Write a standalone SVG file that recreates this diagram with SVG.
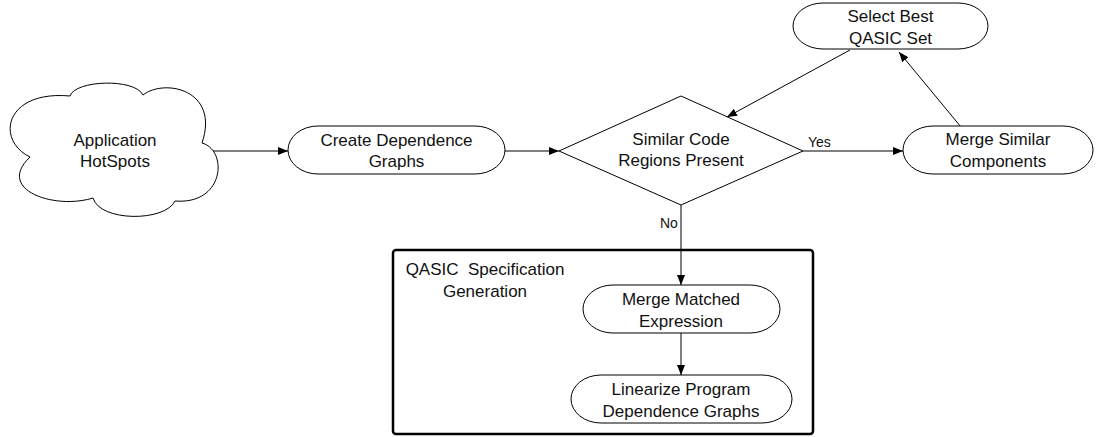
<svg xmlns="http://www.w3.org/2000/svg" width="1097" height="437" viewBox="0 0 1097 437">
  <style>
    .shape { fill: #ffffff; stroke: #000000; stroke-width: 1; }
    .frame { fill: none; stroke: #000000; stroke-width: 2.5; }
    .label { font-family: "Liberation Sans", Arial, sans-serif; font-size: 17px; fill: #111111; text-anchor: middle; }
    .edge-label { font-family: "Liberation Sans", Arial, sans-serif; font-size: 14px; fill: #111111; }
    .edge { fill: none; stroke: #000000; stroke-width: 1; marker-end: url(#arrow); }
  </style>
  <defs>
    <marker id="arrow" viewBox="0 0 10 8" refX="10" refY="4" markerWidth="10" markerHeight="8" markerUnits="userSpaceOnUse" orient="auto">
      <path d="M0,0 L10,4 L0,8 Z" fill="#000000"/>
    </marker>
  </defs>

  <rect width="1097" height="437" fill="#ffffff"/>

  <!-- QASIC specification generation container -->
  <g id="qasic-spec-generation">
    <rect class="frame" x="393" y="250" width="420" height="184" rx="3"/>
    <text class="label" x="485" y="275" xml:space="preserve">QASIC  Specification</text>
    <text class="label" x="485" y="297">Generation</text>
  </g>

  <!-- Connectors -->
  <g id="connectors">
    <line class="edge" x1="213" y1="151" x2="288" y2="151"/>
    <line class="edge" x1="505" y1="151" x2="559" y2="151"/>
    <line class="edge" x1="803" y1="151" x2="903" y2="151"/>
    <line class="edge" x1="961" y1="127" x2="899" y2="52"/>
    <line class="edge" x1="850" y1="50" x2="727" y2="117"/>
    <line class="edge" x1="681" y1="205" x2="681" y2="285"/>
    <line class="edge" x1="681" y1="333" x2="681" y2="375"/>
    <text class="edge-label" x="808" y="147">Yes</text>
    <text class="edge-label" x="660" y="228">No</text>
  </g>

  <g id="application-hotspots">
    <path class="shape" d="M70,96 C75,80 135,78 143,95 C165,78 220,90 202,143 C228,150 225,205 175,201 C165,222 100,222 93,198 C55,210 -5,190 30,157 C-5,140 5,90 70,96 Z"/>
    <text class="label" x="115" y="146">Application</text>
    <text class="label" x="115" y="167">HotSpots</text>
  </g>

  <g id="create-dependence-graphs">
    <rect class="shape" x="288" y="126" width="217" height="48" rx="30" ry="24"/>
    <text class="label" x="396.5" y="146">Create Dependence</text>
    <text class="label" x="396.5" y="167">Graphs</text>
  </g>

  <g id="similar-code-regions">
    <path class="shape" d="M559,151 L681,96 L803,151 L681,205 Z"/>
    <text class="label" x="681" y="145">Similar Code</text>
    <text class="label" x="681" y="166">Regions Present</text>
  </g>

  <g id="merge-similar-components">
    <rect class="shape" x="903" y="126" width="190" height="48" rx="30" ry="24"/>
    <text class="label" x="998" y="145">Merge Similar</text>
    <text class="label" x="998" y="167">Components</text>
  </g>

  <g id="select-best-qasic-set">
    <rect class="shape" x="793" y="3" width="195" height="46" rx="30" ry="23"/>
    <text class="label" x="890.5" y="22">Select Best</text>
    <text class="label" x="890.5" y="44">QASIC Set</text>
  </g>

  <g id="merge-matched-expression">
    <rect class="shape" x="583" y="285" width="197" height="48" rx="30" ry="24"/>
    <text class="label" x="681" y="305">Merge Matched</text>
    <text class="label" x="681" y="327">Expression</text>
  </g>

  <g id="linearize-pdg">
    <rect class="shape" x="571" y="375" width="221" height="48" rx="30" ry="24"/>
    <text class="label" x="681" y="395">Linearize Program</text>
    <text class="label" x="681" y="417">Dependence Graphs</text>
  </g>
</svg>
